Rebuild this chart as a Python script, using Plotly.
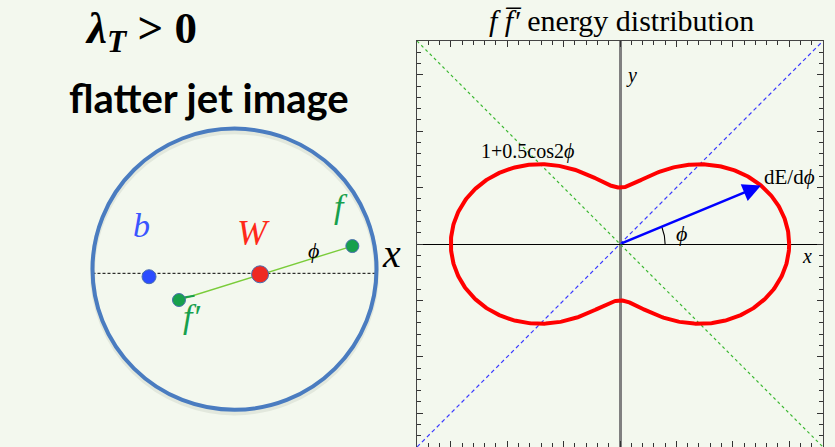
import numpy as np
import plotly.graph_objects as go

BG = "#f3f8ee"
SERIF = "Liberation Serif"

# Energy distribution dE/dphi = base + amp * cos(2 phi)
dist_base = 1.0
dist_amp = 0.5
arrow_phi_deg = 22.5
angle_arc_radius = 0.4
axis_limit = 1.8

# Jet image: particle positions in units of the jet radius
particle_names = ["b", "W", "f", "f'"]
particle_x = [-0.602, 0.180, 0.830, -0.391]
particle_y = [-0.053, -0.036, 0.163, -0.217]
particle_colors = ["#2b4cff", "#ee2a22", "#17a04c", "#17a04c"]
particle_sizes = [14, 17, 13, 13]
reference_line_y = -0.029

fig = go.Figure()

# ---------------- right panel: polar energy pattern ----------------
phi = np.linspace(0, 2 * np.pi, 721)
r = dist_base + dist_amp * np.cos(2 * phi)

L = axis_limit
fig.add_trace(go.Scatter(x=[-L, L], y=[L, -L], mode="lines",
                         line=dict(color="#3cb832", width=1.2, dash="3px,3px"),
                         hoverinfo="skip"))
fig.add_trace(go.Scatter(x=[-L, L], y=[-L, L], mode="lines",
                         line=dict(color="#3a3aff", width=1.2, dash="4px,3px"),
                         hoverinfo="skip"))
fig.add_trace(go.Scatter(x=r * np.cos(phi), y=r * np.sin(phi), mode="lines",
                         line=dict(color="#ff0000", width=4), hoverinfo="skip"))

a = np.deg2rad(arrow_phi_deg)
arc = np.linspace(0, a, 30)
fig.add_trace(go.Scatter(x=angle_arc_radius * np.cos(arc), y=angle_arc_radius * np.sin(arc),
                         mode="lines", line=dict(color="black", width=1.1), hoverinfo="skip"))

r_arrow = dist_base + dist_amp * np.cos(2 * a)
fig.add_annotation(x=r_arrow * np.cos(a), y=r_arrow * np.sin(a), ax=0, ay=0,
                   xref="x", yref="y", axref="x", ayref="y", text="",
                   showarrow=True, arrowhead=2, arrowsize=1.4, arrowwidth=2.6,
                   arrowcolor="#0000ff", standoff=0)


def label(text, x, y, size, color="black", xref="x", yref="y", family=SERIF):
    fig.add_annotation(x=x, y=y, xref=xref, yref=yref, showarrow=False, text=text,
                       xanchor="center", yanchor="middle",
                       font=dict(family=family, size=size, color=color))


label("1+0.5cos2<i>ϕ</i>", -0.824, 0.816, 20)
label("dE/d<i>ϕ</i>", 1.507, 0.597, 21)
label("<i>x</i>", 1.655, -0.104, 20)
label("<i>y</i>", 0.098, 1.498, 20)
label("<i>ϕ</i>", 0.547, 0.097, 22)
label("<i>f</i> <i>f\u0305′</i> energy distribution", 621 / 835, 1 - 20 / 447, 30,
      xref="paper", yref="paper")

# ---------------- left panel: jet image ----------------
# soft shadow and jet boundary
fig.add_shape(type="circle", xref="x2", yref="y2", x0=-1, x1=1, y0=-0.99 - 0.022, y1=0.99 - 0.022,
              line=dict(color="rgba(110,120,100,0.12)", width=5))
fig.add_shape(type="circle", xref="x2", yref="y2", x0=-1, x1=1, y0=-0.99, y1=0.99,
              line=dict(color="#4a7cc0", width=4))
fig.add_trace(go.Scatter(x=[-1, 1], y=[reference_line_y] * 2, xaxis="x2", yaxis="y2",
                         mode="lines", line=dict(color="black", width=1, dash="3px,2px"),
                         hoverinfo="skip"))
fig.add_trace(go.Scatter(x=[particle_x[3], particle_x[2]], y=[particle_y[3], particle_y[2]],
                         xaxis="x2", yaxis="y2", mode="lines",
                         line=dict(color="#7acc3a", width=1.4), hoverinfo="skip"))
fig.add_trace(go.Scatter(x=[particle_x[3], particle_x[3] + 0.11],
                         y=[particle_y[3] + 0.012, particle_y[3] + 0.03],
                         xaxis="x2", yaxis="y2", mode="lines",
                         line=dict(color="#17a04c", width=2), hoverinfo="skip"))
fig.add_trace(go.Scatter(x=particle_x, y=particle_y, xaxis="x2", yaxis="y2", mode="markers",
                         marker=dict(color=particle_colors, size=particle_sizes, opacity=1,
                                     line=dict(color="#4a6fb0", width=1)),
                         hoverinfo="skip"))

label("<i>b</i>", -0.658, 0.311, 34, "#3a55ff", "x2", "y2")
label("<i>W</i>", 0.131, 0.255, 36, "#ff2a1a", "x2", "y2")
label("<i>f</i>", 0.753, 0.440, 34, "#17a04c", "x2", "y2")
label("<i>f′</i>", -0.300, -0.335, 34, "#17a04c", "x2", "y2")
label("<i>ϕ</i>", 0.553, 0.135, 22, "black", "x2", "y2")
label("<i>x</i>", 1.107, 0.114, 40, "black", "x2", "y2")

label("<b><i>λ<sub>T</sub></i> > 0</b>", 141 / 835, 1 - 31 / 447, 45, xref="paper", yref="paper")
label("<b>flatter jet image</b>", 209 / 835, 1 - 98 / 447, 40, xref="paper", yref="paper",
      family="Lato")

fig.update_layout(
    width=835, height=447, margin=dict(l=0, r=0, t=0, b=0),
    paper_bgcolor=BG, plot_bgcolor=BG, showlegend=False,
    xaxis=dict(domain=[417 / 835, 823 / 835], range=[-L, L], anchor="y",
               showgrid=False, showticklabels=False, ticks="inside", tick0=0, dtick=0.5,
               ticklen=6, tickwidth=1.2, tickcolor="#333",
               minor=dict(ticks="inside", dtick=0.1, ticklen=3.5, tickwidth=1, tickcolor="#333"),
               showline=True, linecolor="#444", linewidth=1.3, mirror="allticks",
               zeroline=True, zerolinecolor="#808080", zerolinewidth=2.5),
    yaxis=dict(domain=[0, 1 - 41 / 447], range=[-L, L], anchor="x",
               showgrid=False, showticklabels=False, ticks="inside", tick0=0, dtick=0.5,
               ticklen=6, tickwidth=1.2, tickcolor="#333",
               minor=dict(ticks="inside", dtick=0.1, ticklen=3.5, tickwidth=1, tickcolor="#333"),
               showline=True, linecolor="#444", linewidth=1.3, mirror="allticks",
               zeroline=True, zerolinecolor="black", zerolinewidth=1.3),
    xaxis2=dict(domain=[0, 410 / 835], range=[-234.5 / 142, 175.5 / 142], anchor="y2",
                visible=False),
    yaxis2=dict(domain=[0, 1], range=[(269.2 - 447) / 142, 269.2 / 142], anchor="x2",
                visible=False),
)

fig.write_html("out.html")
